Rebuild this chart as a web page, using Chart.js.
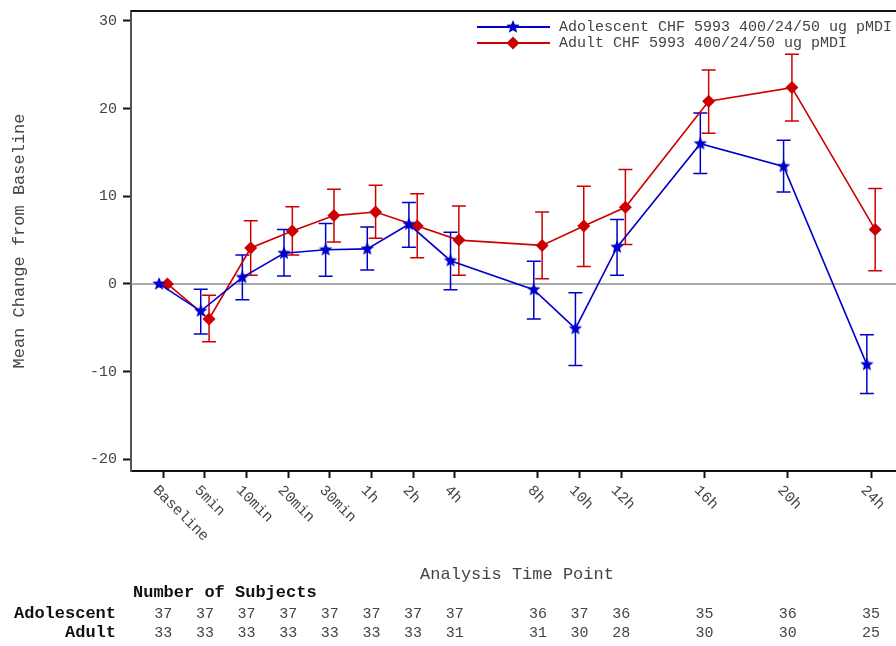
<!DOCTYPE html>
<html>
<head>
<meta charset="utf-8">
<script src="https://cdn.jsdelivr.net/npm/chart.js@4"></script>
<style>
  html, body { margin: 0; padding: 0; background: #fff; }
  #wrap { position: relative; width: 896px; height: 646px; }
</style>
</head>
<body>
<div id="wrap"><canvas id="meanChart"></canvas></div>
<script>
// time points and where they sit on the (uneven) time axis
const timeLabels = ['Baseline', '5min', '10min', '20min', '30min', '1h', '2h', '4h', '8h', '10h', '12h', '16h', '20h', '24h'];
const timePos = [0, 1, 2, 3, 4, 5, 6, 7, 9, 10, 11, 13, 15, 17];
const yTicks = [-20, -10, 0, 10, 20, 30];

// Adolescent CHF 5993
const adolMean = [0, -3.1, 0.75, 3.5, 3.9, 4.0, 6.8, 2.65, -0.65, -5.1, 4.2, 16.0, 13.4, -9.2];
const adolUpper = [null, -0.6, 3.3, 6.2, 6.9, 6.5, 9.3, 5.9, 2.6, -1.0, 7.35, 19.5, 16.4, -5.8];
const adolLower = [null, -5.7, -1.8, 0.9, 0.87, 1.6, 4.2, -0.65, -4.0, -9.3, 1.0, 12.6, 10.5, -12.5];
const adolN = [37, 37, 37, 37, 37, 37, 37, 37, 36, 37, 36, 35, 36, 35];

// Adult CHF 5993
const adultMean = [0, -4.0, 4.1, 6.05, 7.8, 8.2, 6.6, 5.0, 4.4, 6.6, 8.75, 20.85, 22.4, 6.2];
const adultUpper = [null, -1.3, 7.2, 8.8, 10.8, 11.25, 10.3, 8.9, 8.2, 11.15, 13.05, 24.4, 26.2, 10.9];
const adultLower = [null, -6.6, 1.0, 3.3, 4.8, 5.2, 3.0, 1.0, 0.6, 2.0, 4.5, 17.2, 18.6, 1.5];
const adultN = [33, 33, 33, 33, 33, 33, 33, 31, 31, 30, 28, 30, 30, 25];

const BLUE = '#0000cc';
const RED = '#cc0000';
const FONT = "'Courier New', 'Liberation Mono', monospace";
const TXT = '#444';

function makeStar(r, color) {
  const c = document.createElement('canvas');
  const s = Math.ceil(r * 2) + 2;
  c.width = c.height = s;
  const g = c.getContext('2d');
  g.translate(s / 2, s / 2);
  g.beginPath();
  for (let i = 0; i < 10; i++) {
    const rad = i % 2 ? r * 0.45 : r;
    const a = -Math.PI / 2 + i * Math.PI / 5;
    g.lineTo(rad * Math.cos(a), rad * Math.sin(a));
  }
  g.closePath();
  g.fillStyle = color;
  g.fill();
  return c;
}
const star = makeStar(7, BLUE);

const toPts = (vals, off) => vals.map((v, i) => ({ x: timePos[i] + off, y: v }));

const series = [
  { mean: adolMean, up: adolUpper, lo: adolLower, off: -0.1, color: BLUE },
  { mean: adultMean, up: adultUpper, lo: adultLower, off: 0.1, color: RED }
];

const decor = {
  id: 'decor',
  beforeDatasetsDraw(chart) {
    const { ctx, chartArea: a, scales: { x, y } } = chart;
    ctx.save();
    // zero reference line
    ctx.strokeStyle = '#8c8c8c';
    ctx.lineWidth = 1.5;
    ctx.beginPath();
    ctx.moveTo(a.left, y.getPixelForValue(0));
    ctx.lineTo(a.right, y.getPixelForValue(0));
    ctx.stroke();
    // error bars
    series.forEach(s => {
      ctx.strokeStyle = s.color;
      ctx.lineWidth = 1.5;
      s.mean.forEach((m, i) => {
        if (s.up[i] == null) return;
        const px = x.getPixelForValue(timePos[i] + s.off);
        const pu = y.getPixelForValue(s.up[i]);
        const pl = y.getPixelForValue(s.lo[i]);
        ctx.beginPath();
        ctx.moveTo(px, pu); ctx.lineTo(px, pl);
        ctx.moveTo(px - 7, pu); ctx.lineTo(px + 7, pu);
        ctx.moveTo(px - 7, pl); ctx.lineTo(px + 7, pl);
        ctx.stroke();
      });
    });
    ctx.restore();
  },
  afterDraw(chart) {
    const { ctx, chartArea: a, scales: { x } } = chart;
    ctx.save();
    // top frame line
    ctx.strokeStyle = '#111';
    ctx.lineWidth = 2;
    ctx.beginPath();
    ctx.moveTo(a.left, a.top);
    ctx.lineTo(a.right, a.top);
    ctx.stroke();

    // rotated time labels
    ctx.font = '15px ' + FONT;
    ctx.fillStyle = TXT;
    ctx.textAlign = 'left';
    ctx.textBaseline = 'middle';
    timeLabels.forEach((lab, i) => {
      ctx.save();
      ctx.translate(x.getPixelForValue(timePos[i]) - 8, a.bottom + 17);
      ctx.rotate(Math.PI / 4);
      ctx.fillText(lab, 0, 0);
      ctx.restore();
    });

    // axis titles
    ctx.font = '17px ' + FONT;
    ctx.textAlign = 'center';
    ctx.fillText('Analysis Time Point', 517, 574);
    ctx.save();
    ctx.translate(19, (a.top + a.bottom) / 2);
    ctx.rotate(-Math.PI / 2);
    ctx.fillText('Mean Change from Baseline', 0, 0);
    ctx.restore();

    // legend
    ctx.font = '15px ' + FONT;
    const leg = [
      { y: 27, color: BLUE, text: 'Adolescent CHF 5993 400/24/50 ug pMDI', mark: 'star' },
      { y: 43, color: RED, text: 'Adult CHF 5993 400/24/50 ug pMDI', mark: 'diamond' }
    ];
    leg.forEach(l => {
      ctx.strokeStyle = l.color;
      ctx.fillStyle = l.color;
      ctx.lineWidth = 1.8;
      ctx.beginPath();
      ctx.moveTo(477, l.y); ctx.lineTo(550, l.y);
      ctx.stroke();
      if (l.mark === 'star') {
        ctx.drawImage(star, 513 - star.width / 2, l.y - star.height / 2);
      } else {
        ctx.beginPath();
        ctx.moveTo(513, l.y - 6.5); ctx.lineTo(519.5, l.y);
        ctx.lineTo(513, l.y + 6.5); ctx.lineTo(506.5, l.y);
        ctx.closePath();
        ctx.fill();
      }
      ctx.fillStyle = TXT;
      ctx.textAlign = 'left';
      ctx.fillText(l.text, 559, l.y);
    });

    // number of subjects table
    ctx.fillStyle = '#111';
    ctx.font = 'bold 17px ' + FONT;
    ctx.textAlign = 'left';
    ctx.fillText('Number of Subjects', 133, 593);
    ctx.textAlign = 'right';
    ctx.fillText('Adolescent', 116, 614);
    ctx.fillText('Adult', 116, 633);
    ctx.font = '15px ' + FONT;
    ctx.fillStyle = TXT;
    ctx.textAlign = 'center';
    timePos.forEach((p, i) => {
      const px = x.getPixelForValue(p);
      ctx.fillText(String(adolN[i]), px, 614);
      ctx.fillText(String(adultN[i]), px, 633);
    });
    ctx.restore();
  }
};

new Chart(document.getElementById('meanChart'), {
  type: 'line',
  data: {
    datasets: [
      {
        label: 'Adolescent CHF 5993 400/24/50 ug pMDI',
        data: toPts(adolMean, -0.1),
        borderColor: BLUE,
        backgroundColor: BLUE,
        borderWidth: 1.6,
        pointStyle: star,
        pointRadius: 7
      },
      {
        label: 'Adult CHF 5993 400/24/50 ug pMDI',
        data: toPts(adultMean, 0.1),
        borderColor: RED,
        backgroundColor: RED,
        borderWidth: 1.6,
        pointStyle: 'rectRot',
        pointRadius: 6.5,
        pointBorderWidth: 0
      }
    ]
  },
  options: {
    responsive: true,
    maintainAspectRatio: false,
    animation: false,
    layout: { autoPadding: false, padding: { top: 11, left: 0, right: 0, bottom: 0 } },
    plugins: { legend: { display: false }, tooltip: { enabled: false } },
    scales: {
      x: {
        type: 'linear',
        min: -0.775,
        max: 17.6,
        afterBuildTicks: s => { s.ticks = timePos.map(v => ({ value: v })); },
        afterFit: s => { s.height = 175; s.paddingLeft = 0; s.paddingRight = 0; },
        border: { display: true, color: '#111', width: 2 },
        grid: { drawOnChartArea: false, tickLength: 7, tickColor: '#111', tickWidth: 2 },
        ticks: { display: false }
      },
      y: {
        min: -21.34,
        max: 31.14,
        afterBuildTicks: s => { s.ticks = yTicks.map(v => ({ value: v })); },
        afterFit: s => { s.width = 131; s.paddingTop = 0; s.paddingBottom = 0; },
        border: { display: true, color: '#555', width: 2 },
        grid: { drawOnChartArea: false, tickLength: 8, tickColor: '#111', tickWidth: 2 },
        ticks: { font: { family: FONT, size: 15 }, color: TXT, padding: 6 }
      }
    }
  },
  plugins: [decor]
});
</script>
</body>
</html>
